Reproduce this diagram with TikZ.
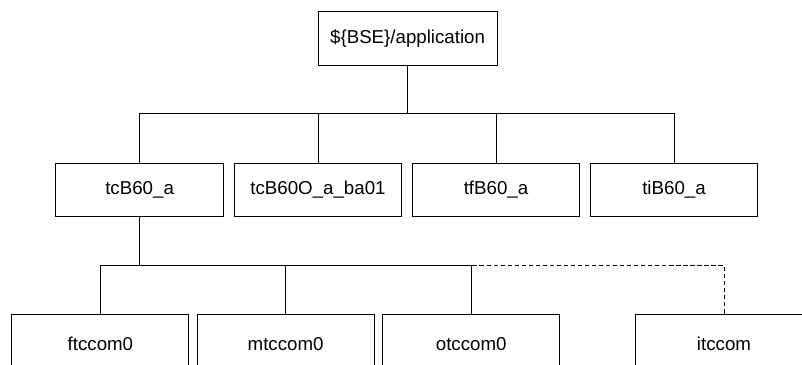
\documentclass[tikz,border=0pt]{standalone}
\usepackage{fontspec}
\setmainfont{Liberation Sans}
\usepackage{tikz}

\begin{document}
\begin{tikzpicture}[line width=0.7pt,
		folder/.style={draw,rectangle,inner sep=0pt,font=\fontsize{13.3}{16}\selectfont},
		toplevel/.style={folder,minimum width=4.475cm,minimum height=1.33cm},
		midlevel/.style={folder,minimum width=4.19cm,minimum height=1.325cm},
		lowlevel/.style={folder,minimum width=4.425cm,minimum height=1.5cm}]
		\path[use as bounding box,clip] (0,0) rectangle (20.05,-9.125);
		
		\node[toplevel] (app)at(10.19,-0.96) {\$\{BSE\}/application};
		
		\node[midlevel] (tcb)at(3.49,-4.74) {tcB60\_a};
		\node[midlevel] (tcbo)at(7.95,-4.74) {tcB60O\_a\_ba01};
		\node[midlevel] (tfb)at(12.4,-4.74) {tfB60\_a};
		\node[midlevel] (tib)at(16.85,-4.74) {tiB60\_a};
		
		\node[lowlevel] (ftc)at(2.51,-8.6) {ftccom0};
		\node[lowlevel] (mtc)at(7.14,-8.6) {mtccom0};
		\node[lowlevel] (otc)at(11.78,-8.6) {otccom0};
		\node[lowlevel] (itc)at(18.1,-8.6) {itccom};
		
		\coordinate (appbar) at (10.19,-2.84);
		\coordinate (tcbar) at (3.49,-6.64);
		
		\draw (app) -- (appbar);
		\draw (tcb.north) |- (appbar);
		\draw (tcbo.north) |- (appbar);
		\draw (tfb.north) |- (appbar);
		\draw (tib.north) |- (appbar);
		
		\draw (tcb) -- (tcbar);
		\draw (ftc.north) |- (tcbar);
		\draw (mtc.north) |- (tcbar);
		\draw (otc.north) |- (tcbar);
		\draw[dashed,dash pattern=on 3pt off 2pt] (itc.north) |- (otc.north |- tcbar);
	\end{tikzpicture}
\end{document}
